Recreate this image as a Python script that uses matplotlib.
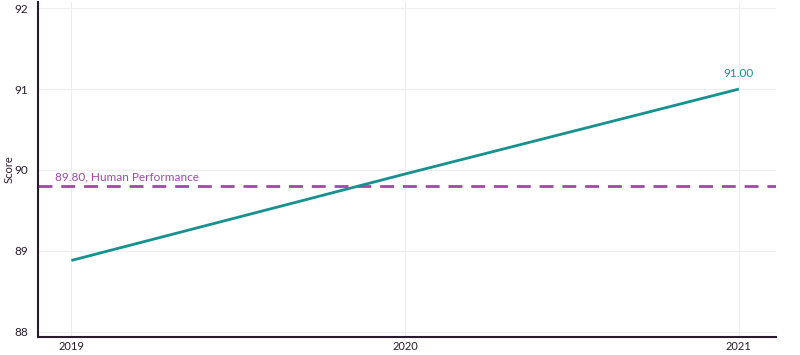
import matplotlib
matplotlib.use("Agg")
import matplotlib.pyplot as plt

# data
years = [2019, 2020, 2021]
scores = [88.88, 89.95, 91.00]
human_score = 89.80
human_label = "89.80, Human Performance"
yticks = [88, 89, 90, 91, 92]

teal = "#16918f"
purple = "#a04aa6"
dark = "#2b1a2e"

plt.rcParams["font.family"] = ["Lato", "DejaVu Sans"]

fig = plt.figure(figsize=(8, 3.55), dpi=100)
ax = fig.add_axes([0.0475, 0.05, 0.922, 0.945])

ax.plot(years, scores, color=teal, linewidth=2.0, solid_capstyle="butt", zorder=3)
ax.axhline(human_score, color=purple, linewidth=2.0, linestyle=(0, (5, 3.2)), zorder=2)

ax.text(2018.9 + 0.05, human_score + 0.05, human_label, color=purple,
        fontsize=8.5, ha="left", va="bottom")
ax.annotate(f"{scores[-1]:.2f}", (years[-1], scores[-1]), xytext=(0, 7),
            textcoords="offset points", ha="center", va="bottom",
            color=teal, fontsize=8.5)

ax.set_xlim(2018.9, 2021.11)
ax.set_ylim(87.93, 92.08)
ax.set_xticks(years)
ax.set_xticklabels([str(y) for y in years])
ax.set_yticks(yticks)
ax.set_ylabel("Score", fontsize=8, color=dark, va="center")
ax.yaxis.set_label_coords(-0.0395, 0.5)

ax.grid(True, color="#eeeeee", linewidth=0.8)
ax.set_axisbelow(True)
for side in ["top", "right"]:
    ax.spines[side].set_visible(False)
for side in ["left", "bottom"]:
    ax.spines[side].set_color(dark)
    ax.spines[side].set_linewidth(1.5)
ax.tick_params(axis="x", length=0, labelsize=8, colors=dark, pad=3)
ax.tick_params(axis="y", length=0, labelsize=8.5, colors=dark, pad=7)

fig.savefig("out.png", dpi=100, facecolor="white")
